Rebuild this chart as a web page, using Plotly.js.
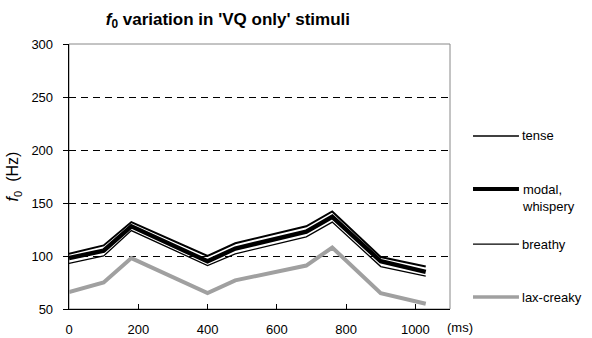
<!DOCTYPE html>
<html><head><meta charset="utf-8">
<script src="https://cdn.plot.ly/plotly-3.0.1.min.js"></script>
<style>html,body{margin:0;padding:0;background:#fff}#c{width:592px;height:338px}</style>
</head><body><div id="c"></div>
<script>
const timeMs = [0, 100, 180, 400, 480, 685, 760, 900, 1030];
const tense = [102, 110, 132, 100, 112, 128, 142, 99, 90];
const modal = [98, 105, 128, 95, 107, 123, 137, 95, 85];
const breathy = [93, 100, 124, 91, 102, 118, 132, 90, 81];
const laxCreaky = [66, 75, 98, 65, 77, 91, 108, 65, 55];
const seriesNames = ['tense', 'modal,<br>whispery', 'breathy', 'lax-creaky'];
const xTicks = [0, 200, 400, 600, 800, 1000];
const yTicks = [50, 100, 150, 200, 250, 300];

const styles = [
  {color: '#000', width: 2},
  {color: '#000', width: 4.5},
  {color: '#000', width: 1.3},
  {color: '#a0a0a0', width: 4}
];
const legWidths = [1.6, 4, 1.1, 3.5];
const seriesData = [tense, modal, breathy, laxCreaky];
const traces = seriesData.map((ys, i) => ({
  x: timeMs, y: ys, type: 'scatter', mode: 'lines', name: seriesNames[i],
  line: {color: styles[i].color, width: styles[i].width}, showlegend: false
}));

const legY = [0.653, 0.453, 0.245, 0.045];
const shapes = [
  {type: 'rect', xref: 'paper', yref: 'paper', x0: 0, x1: 1, y0: 0, y1: 1,
   line: {color: '#888', width: 1}, layer: 'below'}
];
const annotations = [
  {xref: 'paper', yref: 'paper', x: 0.988, y: -0.068, xanchor: 'left', yanchor: 'middle',
   text: '(ms)', showarrow: false, font: {size: 13}}
];
seriesNames.forEach((n, i) => {
  shapes.push({type: 'line', xref: 'paper', yref: 'paper', x0: 1.0604, x1: 1.181,
    y0: legY[i], y1: legY[i], line: {color: styles[i].color, width: legWidths[i]}});
  annotations.push({xref: 'paper', yref: 'paper', x: 1.183, y: legY[i],
    xanchor: 'left', yanchor: i === 1 ? 'top' : 'middle', yshift: i === 1 ? 9 : 0,
    align: 'left', text: n, showarrow: false, font: {size: 13}});
});

const layout = {
  width: 592, height: 338,
  margin: {l: 69, r: 142, t: 44, b: 29},
  paper_bgcolor: '#fff', plot_bgcolor: '#fff',
  font: {family: '"Liberation Sans", Arial, sans-serif', size: 13, color: '#000'},
  title: {text: "<b><i>f</i><sub>0</sub> variation in 'VQ only' stimuli</b>",
    xref: 'paper', x: 0.417, xanchor: 'center', y: 0.945, yanchor: 'middle', font: {size: 17}},
  xaxis: {range: [0, 1100], tickvals: xTicks, ticks: 'inside', ticklen: 5,
    showgrid: false, zeroline: false, showline: true, linecolor: '#000', linewidth: 1.3,
    tickcolor: '#000', tickfont: {size: 13}, ticklabelstandoff: 8},
  yaxis: {range: [50, 300], tickvals: yTicks, ticks: 'outside', ticklen: 5,
    showgrid: true, gridcolor: '#000', gridwidth: 1, griddash: '7px,5px',
    zeroline: false, showline: true, linecolor: '#000', linewidth: 1.3,
    tickcolor: '#000', tickfont: {size: 13}, ticklabelstandoff: 7,
    title: {text: '<i>f</i><sub>0</sub>  (Hz)', font: {size: 16}, standoff: 8}},
  shapes: shapes,
  annotations: annotations
};
Plotly.newPlot('c', traces, layout, {displayModeBar: false, staticPlot: true});
</script></body></html>
